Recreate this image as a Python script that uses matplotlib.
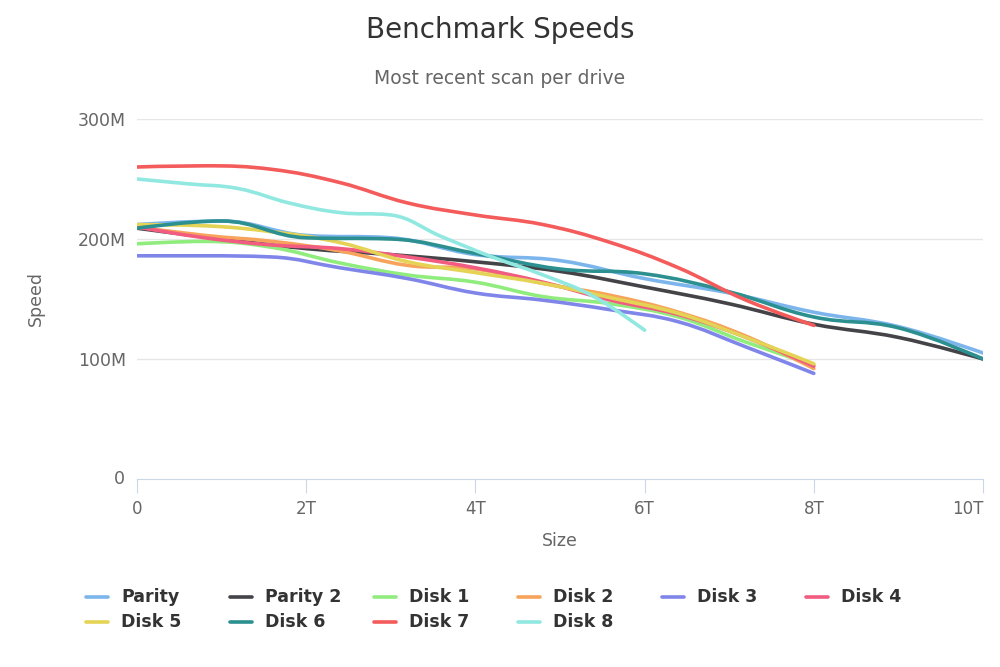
import numpy as np
import matplotlib
matplotlib.use("Agg")
import matplotlib.pyplot as plt
from matplotlib.path import Path
from matplotlib.patches import PathPatch
from matplotlib.lines import Line2D

# drive sizes in T, readings taken every 10% of the drive, speeds in M
names = ["Parity", "Parity 2", "Disk 1", "Disk 2", "Disk 3",
         "Disk 4", "Disk 5", "Disk 6", "Disk 7", "Disk 8"]
colors = ["#7cb5ec", "#434348", "#90ed7d", "#f7a35c", "#8085e9",
          "#f15c80", "#e4d354", "#2b908f", "#f45b5b", "#91e8e1"]
sizes = [10, 10, 8, 8, 8, 8, 8, 10, 8, 6]

parity = [212, 215, 203, 201, 187, 182, 167, 155, 139, 127, 105]
parity2 = [209, 200, 192, 187, 181, 173, 160, 146, 129, 118, 100]
disk1 = [196, 198, 193, 180, 170, 164, 152, 146, 135, 114, 95]
disk2 = [210, 203, 198, 190, 178, 175, 163, 153, 139, 119, 92]
disk3 = [186, 186, 185, 176, 167, 155, 149, 141, 131, 110, 88]
disk4 = [210, 201, 195, 192, 185, 176, 164, 149, 137, 118, 94]
disk5 = [212, 211, 206, 197, 181, 172, 163, 151, 138, 118, 96]
disk6 = [209, 215, 201, 200, 188, 175, 171, 156, 135, 126, 100]
disk7 = [260, 261, 258, 247, 230, 220, 212, 197, 176, 149, 128]
disk8 = [250, 246, 242, 230, 222, 220, 202, 185, 170, 152, 124]
series = [parity, parity2, disk1, disk2, disk3, disk4, disk5, disk6, disk7, disk8]

x_ticks = [0, 2, 4, 6, 8, 10]
x_labels = ["0", "2T", "4T", "6T", "8T", "10T"]
y_ticks = [0, 100, 200, 300]
y_labels = ["0", "100M", "200M", "300M"]

FONT = "DejaVu Sans"
GREY = "#666666"


def spline_path(xs, ys, smoothing=1.5):
    # bezier control points the same way a highcharts spline builds them
    n = len(xs)
    verts = [(xs[0], ys[0])]
    codes = [Path.MOVETO]
    prev_right = (xs[0], ys[0])
    for i in range(1, n):
        px, py = xs[i], ys[i]
        if i < n - 1:
            lx, ly = xs[i - 1], ys[i - 1]
            nx, ny = xs[i + 1], ys[i + 1]
            d = smoothing + 1
            lcx = (smoothing * px + lx) / d
            lcy = (smoothing * py + ly) / d
            rcx = (smoothing * px + nx) / d
            rcy = (smoothing * py + ny) / d
            corr = (rcy - lcy) * (rcx - px) / (rcx - lcx) + py - rcy
            lcy += corr
            rcy += corr
            if lcy > ly and lcy > py:
                lcy = max(ly, py)
                rcy = 2 * py - lcy
            elif lcy < ly and lcy < py:
                lcy = min(ly, py)
                rcy = 2 * py - lcy
            if rcy > ny and rcy > py:
                rcy = max(ny, py)
                lcy = 2 * py - rcy
            elif rcy < ny and rcy < py:
                rcy = min(ny, py)
                lcy = 2 * py - rcy
            left = (lcx, lcy)
            right = (rcx, rcy)
        else:
            left = (px, py)
            right = (px, py)
        verts += [prev_right, left, (px, py)]
        codes += [Path.CURVE4] * 3
        prev_right = right
    return Path(verts, codes)


fig = plt.figure(figsize=(10, 6.67), dpi=100)
ax = fig.add_axes([0.137, 1 - 479 / 667, 0.846, 360 / 667])

for name, col, size, vals in zip(names, colors, sizes, series):
    xs = np.linspace(0, size, len(vals))
    ax.add_patch(PathPatch(spline_path(xs, np.array(vals, float)), fill=False,
                           edgecolor=col, lw=2.6, capstyle="round",
                           joinstyle="round", zorder=3))

ax.set_xlim(0, 10)
ax.set_ylim(0, 300)
ax.set_yticks(y_ticks[1:])
ax.set_yticklabels(y_labels[1:])
ax.grid(axis="y", color="#e6e6e6", lw=1)
ax.set_axisbelow(True)
for s in ["top", "right", "left"]:
    ax.spines[s].set_visible(False)
ax.spines["bottom"].set_color("#ccd6eb")
ax.tick_params(axis="y", length=0, pad=8, labelcolor=GREY, labelsize=12.5)
ax.set_xticks(x_ticks)
ax.set_xticklabels(x_labels)
ax.tick_params(axis="x", length=10, color="#ccd6eb", pad=5, labelcolor=GREY,
               labelsize=12)
for t in ax.get_xticklabels() + ax.get_yticklabels():
    t.set_fontfamily(FONT)
# last x label is pulled inside the plot edge
ax.get_xticklabels()[-1].set_horizontalalignment("right")
# zero label on the y axis
ax.text(-0.014, 0, y_labels[0], transform=ax.get_yaxis_transform(),
        ha="right", va="center", color=GREY, fontsize=12.5, fontfamily=FONT)
ax.text(-0.12, 0.5, "Speed", transform=ax.transAxes, rotation=90,
        ha="center", va="center", color=GREY, fontsize=12.5, fontfamily=FONT)
ax.set_xlabel("Size", color=GREY, fontsize=12.5, fontfamily=FONT, labelpad=10)

fig.text(0.5, 1 - 30 / 667, "Benchmark Speeds", ha="center", va="center",
         fontsize=20, color="#333333", fontfamily=FONT)
fig.text(0.5, 1 - 79 / 667, "Most recent scan per drive", ha="center",
         va="center", fontsize=13.5, color=GREY, fontfamily=FONT)

# legend, six items per row
for i, (name, col) in enumerate(zip(names, colors)):
    row, colno = divmod(i, 6)
    x0 = 86 + 144 * colno
    y0 = 597 + 25 * row
    fig.add_artist(Line2D([x0 / 1000, (x0 + 22) / 1000],
                          [1 - y0 / 667, 1 - y0 / 667],
                          color=col, lw=2.6, solid_capstyle="round"))
    fig.text((x0 + 35) / 1000, 1 - y0 / 667, name, ha="left", va="center",
             fontsize=12.5, fontweight="bold", color="#333333",
             fontfamily=FONT)

fig.savefig("out.png", dpi=100)
